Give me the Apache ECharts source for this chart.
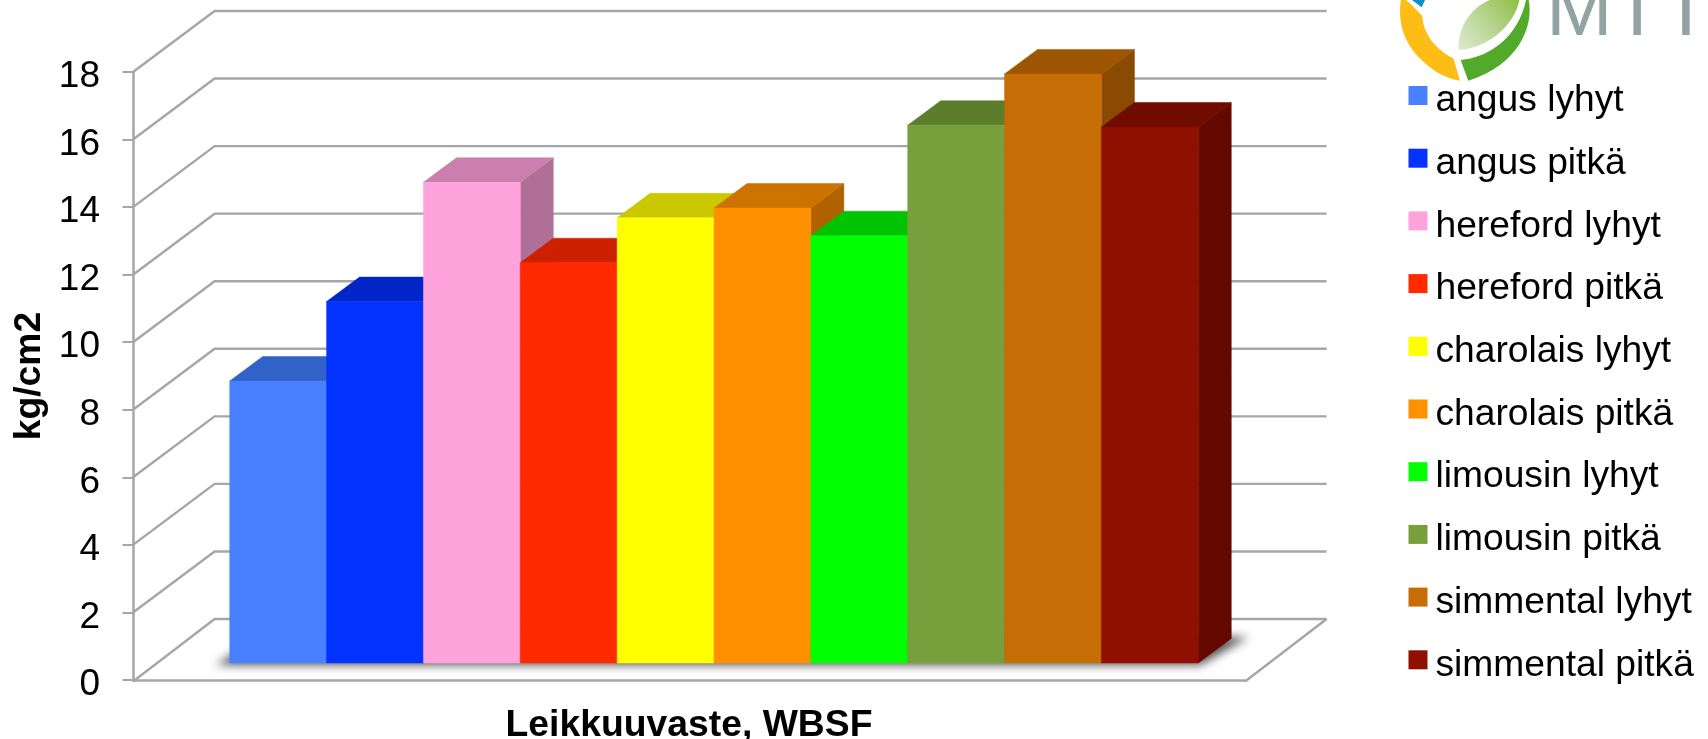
<!DOCTYPE html>
<html><head><meta charset="utf-8">
<style>html,body{margin:0;padding:0;background:#fff}#c{width:1708px;height:739px}</style>
<script src="https://cdn.jsdelivr.net/npm/echarts@6/dist/echarts.min.js"></script>
</head><body><div id="c"></div>
<script>
const categories = ['Leikkuuvaste, WBSF'];
const seriesNames = ['angus lyhyt','angus pitkä','hereford lyhyt','hereford pitkä','charolais lyhyt','charolais pitkä','limousin lyhyt','limousin pitkä','simmental lyhyt','simmental pitkä'];
const seriesValues = [8.35,10.7,14.23,11.85,13.18,13.47,12.65,15.92,17.44,15.87];
const frontColors = ['#4880ff','#0433ff','#ffa3dc','#ff2a00','#ffff00','#ff9000','#00ff00','#77a03c','#c66d05','#8f0f00'];
const topColors   = ['#3062c8','#0026c8','#cc7fae','#cc2000','#ccc800','#cc7200','#00c400','#5c7e2c','#9e5503','#700b00'];
const sideColors  = ['#2f58ae','#0022b0','#b06f96','#b01c00','#b0ae00','#b06200','#00aa00','#516e27','#8a4a02','#640800'];
const tickValues = [0,2,4,6,8,10,12,14,16,18];
const yTitle = 'kg/cm2';

// projection of the pseudo-3D box, in pixels
const WALL_DX = 81.6, WALL_DY = 61;
const BAR_LIFT = 17, BAR_SHIFT = 25, BAR_FRAC = 0.0871, BAR_DX = 33, BAR_DY = 24.5;
const GRID = '#a6a6a6';
const FONT = '"Liberation Sans", Arial, sans-serif';
const OFF = 3000;

function wallItem(params, api) {
  const cs = params.coordSys;
  const t = api.value(0);
  const y = api.coord([0, t])[1];
  const children = [{
    type: 'polyline',
    shape: {points: [[cs.x, y + (t === 0 ? 1.5 : 0)], [cs.x + WALL_DX, y - WALL_DY], [cs.x + cs.width + WALL_DX, y - WALL_DY]]},
    style: {stroke: GRID, lineWidth: 2.4, fill: null}
  }];
  if (t === 0) {
    children.push({
      type: 'line',
      shape: {x1: cs.x + cs.width + WALL_DX, y1: y - WALL_DY, x2: cs.x + cs.width, y2: y + 1.5},
      style: {stroke: GRID, lineWidth: 2.4}
    });
  }
  return {type: 'group', children};
}

function shadowItem(params, api) {
  const band = api.size([1, 0])[0];
  const w = band * BAR_FRAC;
  const c = api.coord([0, 0]);
  const x0 = c[0] + BAR_SHIFT - 5 * w, x1 = c[0] + BAR_SHIFT + 5 * w, y = c[1] - BAR_LIFT;
  return {
    type: 'polygon',
    shape: {points: [[x0 - 14 - OFF, y + 2], [x1 + 2 - OFF, y + 2], [x1 + 50 - OFF, y - 26], [x0 + 30 - OFF, y - 26]]},
    style: {fill: '#000', shadowBlur: 10, shadowOffsetX: OFF, shadowColor: 'rgba(85,85,85,1)'}
  };
}

function barItem(i) {
  return function (params, api) {
    const band = api.size([1, 0])[0];
    const w = band * BAR_FRAC;
    const base = api.coord([0, 0]);
    const top = api.coord([0, api.value(1)]);
    const x0 = base[0] + BAR_SHIFT + (i - 5) * w, x1 = x0 + w;
    const yb = base[1] - BAR_LIFT, yt = top[1] - BAR_LIFT;
    const poly = (points, fill) => ({type: 'polygon', shape: {points}, style: {fill, stroke: fill, lineWidth: 0.5}});
    return {type: 'group', children: [
      poly([[x1, yb], [x1 + BAR_DX, yb - BAR_DY], [x1 + BAR_DX, yt - BAR_DY], [x1, yt]], sideColors[i]),
      poly([[x0, yt], [x1, yt], [x1 + BAR_DX, yt - BAR_DY], [x0 + BAR_DX, yt - BAR_DY]], topColors[i]),
      poly([[x0, yb], [x1, yb], [x1, yt], [x0, yt]], frontColors[i])
    ]};
  };
}

function logoItem() {
  const p = (d, fill) => ({type: 'path', shape: {pathData: d}, style: {fill}});
  return {type: 'group', x: 1390, y: 0, scaleX: 1/3, scaleY: 1/3, silent: true, children: [
    p('M33 0 C22 60 40 130 95 180 C130 215 170 236 210 242 L190 175 C140 150 100 105 97 48 L62 12 L48 0 Z', '#fdbd14'),
    p('M212 180 C300 172 385 110 408 0 L416 0 C432 80 385 195 235 242 Z', '#52aa2a'),
    p('M205 148 C205 70 250 20 300 0 L388 0 C375 70 300 145 205 150 Z', {type: 'linear', x: 0, y: 1, x2: 1, y2: 0, colorStops: [{offset: 0, color: '#dfe9d0'}, {offset: 0.45, color: '#bcd79a'}, {offset: 1, color: '#8fbf45'}]}),
    p('M66 0 L105 0 L95 22 Z', '#0a8fd0')
  ]};
}

const series = [
  {type: 'custom', name: '_wall', silent: true, z: 1, data: tickValues.map(t => [t]), encode: {y: 0}, renderItem: wallItem},
  {type: 'custom', name: '_shadow', silent: true, z: 1.5, data: [[0, 0]], encode: {x: 0, y: 1}, renderItem: shadowItem},
  {type: 'custom', name: '_logo', silent: true, z: 5, data: [[0, 0]], encode: {x: 0, y: 1}, renderItem: logoItem}
].concat(seriesNames.map((name, i) => ({
  type: 'custom', name, z: 2, itemStyle: {color: frontColors[i]},
  data: [[0, seriesValues[i]]], encode: {x: 0, y: 1}, renderItem: barItem(i)
})));

const chart = echarts.init(document.getElementById('c'), null, {renderer: 'canvas'});
chart.setOption({
  animation: false,
  backgroundColor: '#fff',
  textStyle: {fontFamily: FONT},
  grid: {left: 133, right: 463, top: 72, bottom: 59, outerBoundsMode: 'none'},
  xAxis: {
    type: 'category', data: categories, offset: 1.5,
    name: categories[0], nameLocation: 'middle', nameGap: 26,
    nameTextStyle: {fontFamily: FONT, fontSize: 37.3, fontWeight: 'bold', color: '#000'},
    axisLine: {lineStyle: {color: GRID, width: 2.5}}, axisTick: {show: false}, axisLabel: {show: false}
  },
  yAxis: {
    type: 'value', min: 0, max: 18, interval: 2,
    name: yTitle, nameLocation: 'middle', nameRotate: 90, nameGap: 83.5,
    nameTextStyle: {fontFamily: FONT, fontSize: 37.3, fontWeight: 'bold', color: '#000'},
    axisLine: {show: true, lineStyle: {color: GRID, width: 2.5}},
    axisTick: {show: true, length: 10.5, lineStyle: {color: GRID, width: 2}},
    axisLabel: {fontFamily: FONT, fontSize: 37, color: '#000', margin: 33, verticalAlign: 'top', lineHeight: 10},
    splitLine: {show: false}
  },
  legend: {
    data: seriesNames, orient: 'vertical', left: 1403.5, top: 77.5,
    icon: 'path://M0,0H19V19H0Z M0,30L0,30',
    itemWidth: 19, itemHeight: 30, itemGap: 25.7, selectedMode: false,
    textStyle: {fontFamily: FONT, fontSize: 37.2, color: '#000', padding: [0, 0, 0, 3]}
  },
  series,
  graphic: [
    {type: 'text', x: 1546, y: 50, z: 5, silent: true,
     style: {text: 'MTT', fontFamily: FONT, fontSize: 80, fill: '#92a3a3', verticalAlign: 'bottom', lineHeight: 74}}
  ]
});
</script></body></html>
